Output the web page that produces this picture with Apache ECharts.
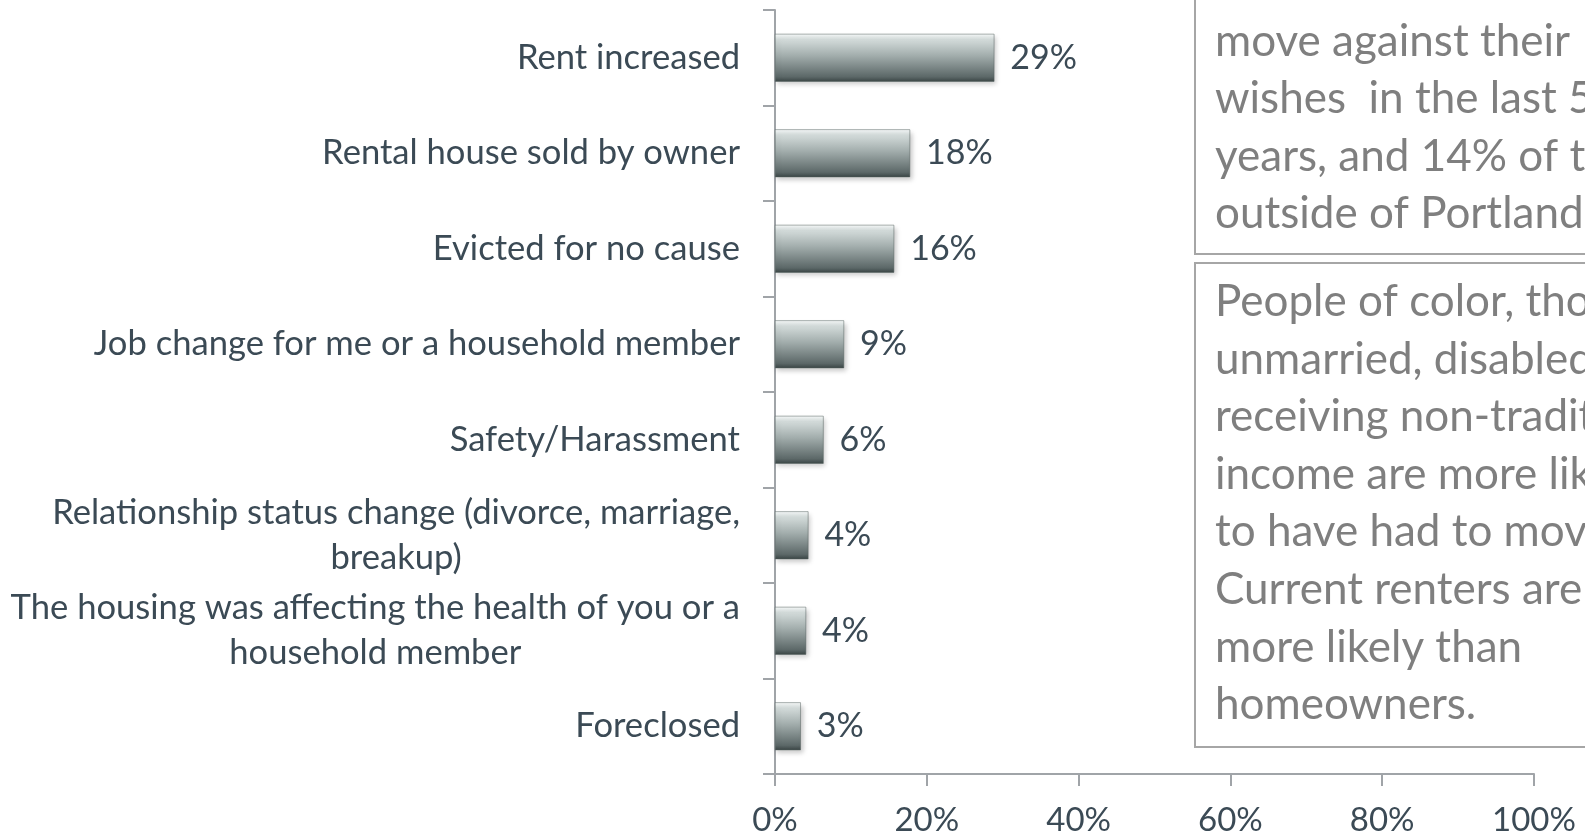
<!DOCTYPE html>
<html>
<head>
<meta charset="utf-8">
<script src="https://cdn.jsdelivr.net/npm/echarts@6/dist/echarts.min.js"></script>
<style>
  html, body { margin: 0; padding: 0; background: #fff; }
  #bar { width: 1585px; height: 834px; }
</style>
</head>
<body>
<div id="bar"></div>
<script>
var reasons = [
  'Rent increased',
  'Rental house sold by owner',
  'Evicted for no cause',
  'Job change for me or a household member',
  'Safety/Harassment',
  'Relationship status change (divorce, marriage,\nbreakup)',
  'The housing was affecting the health of you or a\nhousehold member',
  'Foreclosed'
];
var shares = [28.9, 17.8, 15.7, 9.1, 6.4, 4.4, 4.1, 3.4];
var ticks = [0, 20, 40, 60, 80, 100];

var noteTop = ['move against their', 'wishes  in the last 5', 'years, and 14% of those', 'outside of Portland.'];
var noteBottom = ['People of color, those', 'unmarried, disabled, or', 'receiving non-traditional',
  'income are more likely', 'to have had to move.', 'Current renters are', 'more likely than', 'homeowners.'];

function barchart(){
  var chartDom = document.getElementById('bar');
  var myChart = echarts.init(chartDom);
  var labelColor = '#3b4a55';
  var font = 'Lato, "Open Sans", sans-serif';

  var option = {
    animation: false,
    grid: { left: 775, right: 51, top: 10, bottom: 60, containLabel: false, outerBoundsMode: 'none' },
    xAxis: {
      type: 'value',
      min: ticks[0],
      max: ticks[ticks.length - 1],
      interval: ticks[1] - ticks[0],
      splitLine: { show: false },
      axisLine: { show: true, lineStyle: { color: '#a0a4a8', width: 2 } },
      axisTick: { show: true, length: 12, lineStyle: { color: '#a0a4a8', width: 2 } },
      axisLabel: {
        margin: 30,
        formatter: '{value}%',
        color: labelColor,
        fontFamily: font,
        fontSize: 33
      }
    },
    yAxis: {
      type: 'category',
      inverse: true,
      data: reasons,
      axisLine: { show: true, lineStyle: { color: '#a0a4a8', width: 2 } },
      axisTick: { show: true, length: 12, lineStyle: { color: '#a0a4a8', width: 2 } },
      axisLabel: {
        margin: 35,
        align: 'right',
        formatter: function (v) {
          return v.split('\n').map(function (s) { return '{c|' + s + '}'; }).join('\n');
        },
        rich: {
          c: {
            align: 'center',
            color: labelColor,
            fontFamily: font,
            fontSize: 34.6,
            lineHeight: 45
          }
        }
      }
    },
    series: [{
      type: 'bar',
      data: shares,
      barCategoryGap: '50%',
      itemStyle: {
        color: new echarts.graphic.LinearGradient(0, 0, 0, 1, [
          { offset: 0, color: '#f8fbfb' },
          { offset: 0.12, color: '#d3dbda' },
          { offset: 0.45, color: '#a3aead' },
          { offset: 0.9, color: '#5c6868' },
          { offset: 1, color: '#3a4545' }
        ]),
        borderColor: '#55605f',
        borderWidth: 0.5,
        shadowBlur: 5,
        shadowOffsetX: 2,
        shadowOffsetY: 3,
        shadowColor: 'rgba(0,0,0,0.22)'
      },
      label: {
        show: true,
        position: 'right',
        distance: 16,
        formatter: function (p) { return Math.round(p.value) + '%'; },
        color: labelColor,
        fontFamily: font,
        fontSize: 34
      }
    }],
    graphic: [
      {
        type: 'rect',
        shape: { x: 1195, y: -20, width: 500, height: 274 },
        style: { fill: '#fff', stroke: '#a6a6a6', lineWidth: 2 },
        z: 10
      },
      {
        type: 'text',
        x: 1215, y: 12.6,
        style: {
          text: noteTop.join('\n'),
          fill: '#7f7f7f',
          font: '44px ' + font,
          lineHeight: 57.6,
          verticalAlign: 'top'
        },
        z: 11
      },
      {
        type: 'rect',
        shape: { x: 1195, y: 263, width: 500, height: 484 },
        style: { fill: '#fff', stroke: '#a6a6a6', lineWidth: 2 },
        z: 10
      },
      {
        type: 'text',
        x: 1215, y: 273,
        style: {
          text: noteBottom.join('\n'),
          fill: '#7f7f7f',
          font: '44px ' + font,
          lineHeight: 57.6,
          verticalAlign: 'top'
        },
        z: 11
      }
    ]
  };
  option && myChart.setOption(option);
}

window.onload = function(e){
  barchart();
};
</script>
</body>
</html>
